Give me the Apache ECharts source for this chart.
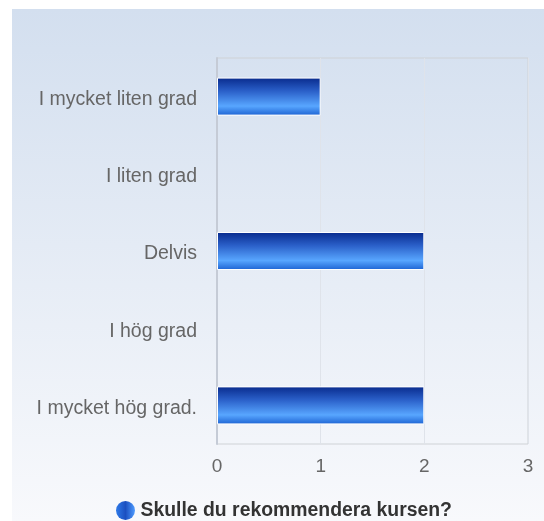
<!DOCTYPE html>
<html>
<head>
<meta charset="utf-8">
<script src="https://cdn.jsdelivr.net/npm/echarts@6/dist/echarts.min.js"></script>
<style>
  html, body { margin: 0; padding: 0; background: #ffffff; }
  #chart { width: 544px; height: 521px; }
</style>
</head>
<body>
<div id="chart"></div>
<script>
// Answer categories (top to bottom) and number of responses
const categories = ['I mycket liten grad', 'I liten grad', 'Delvis', 'I hög grad', 'I mycket hög grad.'];
const counts = [1, 0, 2, 0, 2];
const seriesName = 'Skulle du rekommendera kursen?';
const xTicks = { min: 0, max: 3, interval: 1 };

const FONT = 'Liberation Sans, Arial, sans-serif';
const chart = echarts.init(document.getElementById('chart'));

const barGradient = new echarts.graphic.LinearGradient(0, 0, 0, 1, [
  { offset: 0, color: '#082a8c' },
  { offset: 0.35, color: '#2a5fc8' },
  { offset: 0.75, color: '#58a6ff' },
  { offset: 1, color: '#1c62d2' }
]);

// zero-length bars get no outline so they don't paint over the axis line
const barData = counts.map(v => v === 0 ? { value: v, itemStyle: { borderWidth: 0 } } : v);

chart.setOption({
  backgroundColor: '#ffffff',
  animation: false,
  textStyle: { fontFamily: FONT },
  graphic: [{
    type: 'rect',
    z: -10,
    silent: true,
    shape: { x: 12, y: 9, width: 532, height: 512 },
    style: {
      fill: new echarts.graphic.LinearGradient(0, 0, 0, 1, [
        { offset: 0, color: '#d3dfef' },
        { offset: 1, color: '#f8f9fc' }
      ])
    }
  }],
  grid: {
    left: 217, right: 16, top: 58, bottom: 77,
    show: true,
    borderColor: '#cfd2d6',
    borderWidth: 1,
    backgroundColor: 'transparent'
  },
  legend: {
    left: 111,
    top: 496,
    itemWidth: 20,
    itemHeight: 19,
    itemGap: 5,
    icon: 'circle',
    textStyle: { fontSize: 19.4, fontWeight: 'bold', color: '#333333', fontFamily: FONT },
    data: [{
      name: seriesName,
      itemStyle: {
        color: new echarts.graphic.LinearGradient(0, 0, 1, 0, [
          { offset: 0, color: '#2f7ae8' },
          { offset: 0.5, color: '#1b4fc0' },
          { offset: 1, color: '#4f9cff' }
        ]),
        borderWidth: 0
      }
    }]
  },
  xAxis: {
    type: 'value',
    min: xTicks.min,
    max: xTicks.max,
    interval: xTicks.interval,
    axisLine: { show: false },
    axisTick: { show: false },
    axisLabel: { fontSize: 19, color: '#666666', margin: 13 },
    splitLine: { show: true, lineStyle: { color: '#dfe3ea', width: 1 } }
  },
  yAxis: {
    type: 'category',
    data: categories,
    inverse: true,
    axisLine: { show: true, lineStyle: { color: '#c5cbd6', width: 2 } },
    axisTick: { show: false },
    // a short top-aligned line box drops each label a few pixels below its band centre
    axisLabel: {
      fontSize: 19.5, color: '#666666', margin: 20,
      verticalAlign: 'top', lineHeight: 6
    }
  },
  series: [{
    name: seriesName,
    type: 'bar',
    data: barData,
    barWidth: 38,
    itemStyle: {
      color: barGradient,
      borderColor: '#ffffff',
      borderWidth: 1
    }
  }]
});
</script>
</body>
</html>
